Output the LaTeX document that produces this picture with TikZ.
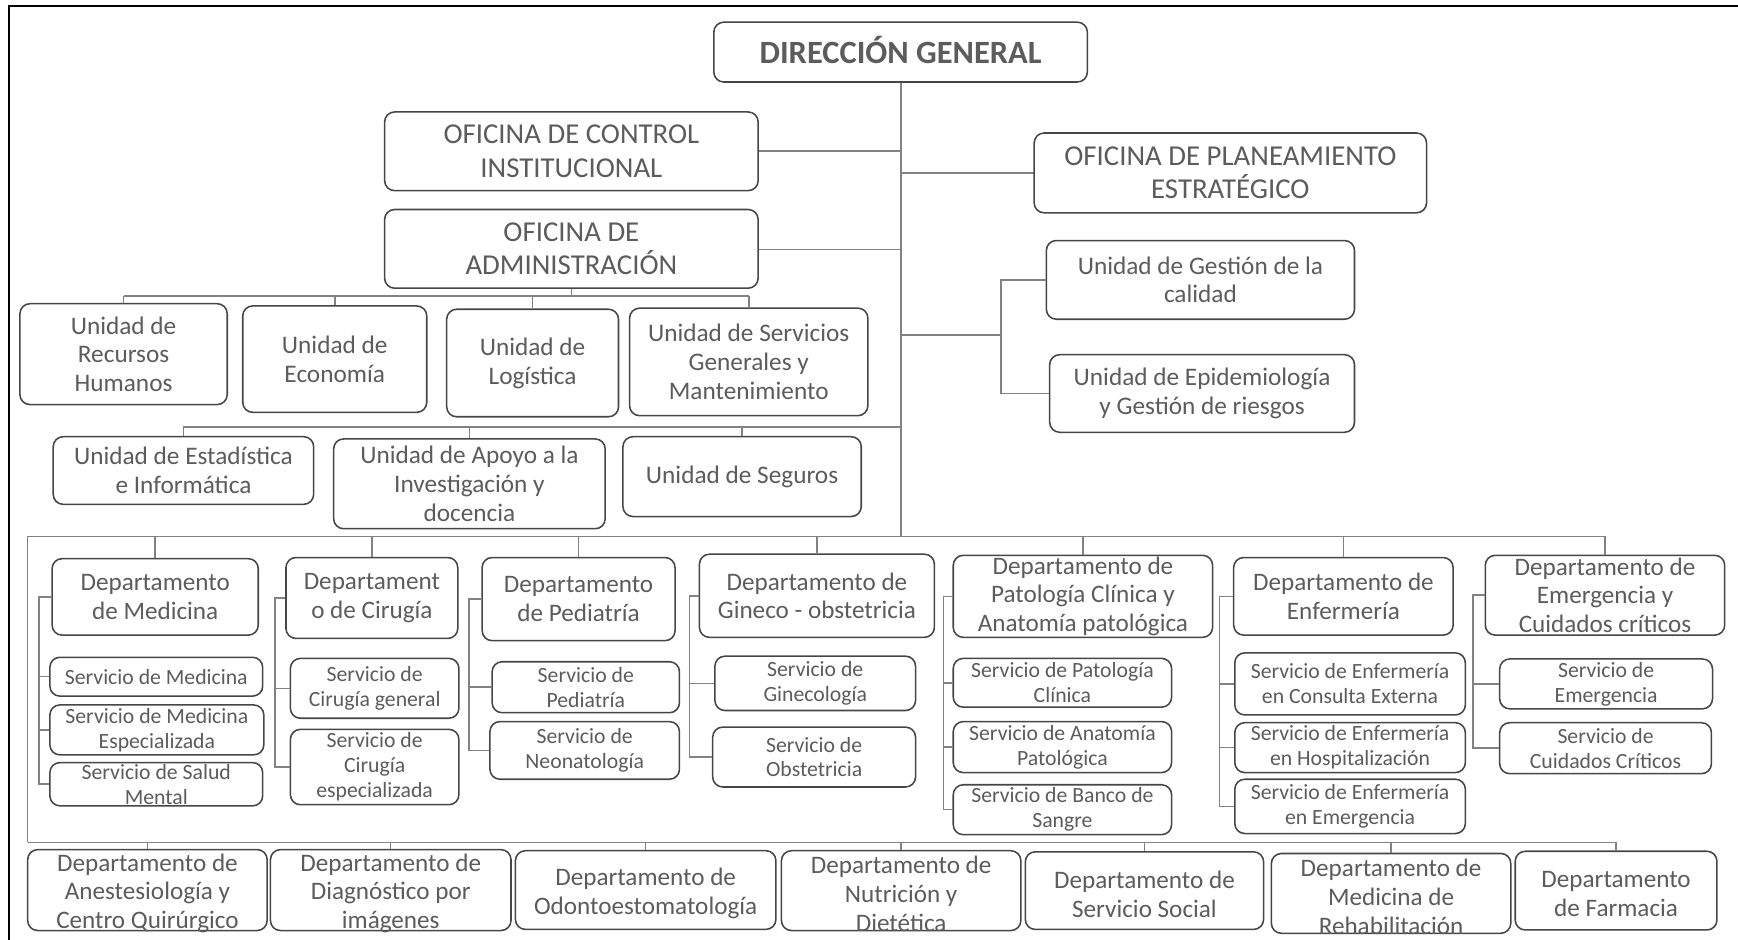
\documentclass[tikz,border=0pt]{standalone}
\usepackage{fontspec}
\setmainfont{Carlito}
\definecolor{txt}{RGB}{92,92,92}
\definecolor{bord}{RGB}{70,70,70}
\definecolor{lnk}{RGB}{130,130,130}
\tikzset{
  box/.style={draw=bord, line width=1.4pt, rounded corners=9pt, inner sep=0pt, fill=white},
  lbl/.style={text=txt, align=center, inner sep=0pt},
  fdir/.style={lbl, font=\fontsize{29.3}{34}\selectfont\bfseries, yshift=2pt},
  fofi/.style={lbl, font=\fontsize{26}{30}\selectfont},
  funi/.style={lbl, font=\fontsize{22.8}{26}\selectfont},
  fdep/.style={lbl, font=\fontsize{22.7}{26}\selectfont},
  fbot/.style={fdep, yshift=-3pt},
  fser/.style={lbl, font=\fontsize{19.6}{22.5}\selectfont},
  conn/.style={draw=lnk, line width=1.4pt},
}
\newcommand\bx[7]{\node[box,minimum width=#4pt,minimum height=#5pt,label={[#6]center:#7}] (#1) at (#2,#3) {};}
\begin{document}
\begin{tikzpicture}[x=1pt,y=-1pt]
\useasboundingbox (0,0) rectangle (1568,848);
% frame
\draw[line width=2pt,black] (8,848) -- (8,5.5) -- (1568,5.5);
% coordinates for buses
\coordinate (gq) at (903,302);
\coordinate (ab) at (0,267);
\coordinate (ub) at (0,385);
\coordinate (b1L) at (25,484);
\coordinate (b2L) at (25,760);
% connectors (drawn first)
\coordinate (mtop) at (813,74);
\draw[conn] (mtop) -- (mtop |- b1L);
\draw[conn] (684,136) -- (813,136);
\draw[conn] (684,225) -- (813,225);
\draw[conn] (813,156) -- (933,156);
% boxes
\bx{dir}{812.5}{47}{337}{54}{fdir}{DIRECCIÓN GENERAL}
\bx{ctrl}{515.5}{136.5}{337}{71}{fofi}{OFICINA DE CONTROL\\INSTITUCIONAL}
\bx{adm}{515.5}{224.5}{337}{71}{fofi}{OFICINA DE\\ADMINISTRACIÓN}
\bx{plan}{1110}{156}{354}{72}{fofi}{OFICINA DE PLANEAMIENTO\\ESTRATÉGICO}
\bx{gest}{1083}{252.5}{278}{71}{funi}{Unidad de Gestión de la\\calidad}
\bx{epi}{1084.5}{355}{275}{70}{funi}{Unidad de Epidemiología\\y Gestión de riesgos}
\bx{rrhh}{111.5}{319.5}{187}{91}{funi}{Unidad de\\Recursos\\Humanos}
\bx{eco}{302}{324}{166}{96}{funi}{Unidad de\\Economía}
\bx{log}{480.5}{327.5}{155}{97}{funi}{Unidad de\\Logística}
\bx{sgm}{675.5}{326.5}{215}{97}{funi}{Unidad de Servicios\\Generales y\\Mantenimiento}
\bx{est}{165.5}{424.5}{235}{61}{funi}{Unidad de Estadística\\e Informática}
\bx{apo}{423.5}{436.5}{245}{81}{funi}{Unidad de Apoyo a la\\Investigación y\\docencia}
\bx{seg}{669.5}{430}{215}{72}{funi}{Unidad de Seguros}
% departments
\bx{dmed}{140}{538.5}{186}{69}{fdep}{Departamento\\de Medicina}
\bx{dcir}{335.5}{539.5}{155}{73}{fdep}{Departament\\o de Cirugía}
\bx{dped}{522}{540.5}{174}{75}{fdep}{Departamento\\de Pediatría}
\bx{dgin}{737}{537.5}{212}{75}{fdep}{Departamento de\\Gineco - obstetricia}
\bx{dpat}{977}{538}{234}{74}{fdep}{Departamento de\\Patología Clínica y\\Anatomía patológica}
\bx{denf}{1212}{538}{198}{70}{fdep}{Departamento de\\Enfermería}
\bx{dem}{1448}{537}{216}{72}{fdep}{Departamento de\\Emergencia y\\Cuidados críticos}
% services
\bx{sm1}{141}{610.5}{192}{35}{fser}{Servicio de Medicina}
\bx{sm2}{141.5}{658.5}{193}{45}{fser}{Servicio de Medicina\\Especializada}
\bx{sm3}{141}{707.5}{192}{39}{fser}{Servicio de Salud\\Mental}
\bx{sc1}{338}{621}{152}{54}{fser}{Servicio de\\Cirugía general}
\bx{sc2}{338}{692}{152}{68}{fser}{Servicio de\\Cirugía\\especializada}
\bx{sp1}{528.5}{620}{169}{46}{fser}{Servicio de\\Pediatría}
\bx{sp2}{527.5}{677}{171}{52}{fser}{Servicio de\\Neonatología}
\bx{sg1}{735.5}{616.5}{181}{49}{fser}{Servicio de\\Ginecología}
\bx{sg2}{734.5}{683}{183}{54}{fser}{Servicio de\\Obstetricia}
\bx{sa1}{958.5}{616}{197}{44}{fser}{Servicio de Patología\\Clínica}
\bx{sa2}{958.5}{674}{197}{46}{fser}{Servicio de Anatomía\\Patológica}
\bx{sa3}{958.5}{730.5}{197}{45}{fser}{Servicio de Banco de\\Sangre}
\bx{se1}{1218}{617}{208}{56}{fser}{Servicio de Enfermería\\en Consulta Externa}
\bx{se2}{1218}{674.5}{208}{45}{fser}{Servicio de Enfermería\\en Hospitalización}
\bx{se3}{1218}{727.5}{208}{49}{fser}{Servicio de Enfermería\\en Emergencia}
\bx{sx1}{1449}{617}{192}{45}{fser}{Servicio de\\Emergencia}
\bx{sx2}{1448.5}{675}{191}{46}{fser}{Servicio de\\Cuidados Críticos}
% bottom row
\bx{an}{133}{803}{216}{73}{fbot}{Departamento de\\Anestesiología y\\Centro Quirúrgico}
\bx{dx}{352.5}{803}{217}{73}{fbot}{Departamento de\\Diagnóstico por\\imágenes}
\bx{od}{582.5}{803}{235}{71}{fbot}{Departamento de\\Odontoestomatología}
\bx{nu}{813}{803.5}{216}{72}{fbot}{Departamento de\\Nutrición y\\Dietética}
\bx{ss}{1032.5}{803.5}{215}{70}{fbot}{Departamento de\\Servicio Social}
\bx{mr}{1255}{806}{216}{72}{fbot}{Departamento de\\Medicina de\\Rehabilitación}
\bx{fa}{1458}{803.5}{182}{71}{fbot}{Departamento\\de Farmacia}
% Gestión bracket
\draw[conn] (gq -| mtop) -- (gq);
\draw[conn] (gest.west) -- (gest.west -| gq) -- (epi.west -| gq) -- (epi.west);
% administration units
\draw[conn] (adm.south) -- (adm.south |- ab);
\draw[conn] (rrhh.north |- ab) -- (sgm.north |- ab);
\foreach \n in {rrhh,eco,log,sgm} \draw[conn] (\n.north) -- (\n.north |- ab);
\draw[conn] (est.north |- ub) -- (ub -| mtop);
\foreach \n in {est,apo,seg} \draw[conn] (\n.north) -- (\n.north |- ub);
% department buses
\draw[conn] (b2L) -- (b1L) -| (dem.north);
\foreach \n in {dmed,dcir,dped,dgin,dpat,denf} \draw[conn] (\n.north) -- (\n.north |- b1L);
\draw[conn] (b2L) -| (fa.north);
\foreach \n in {an,dx,od,nu,ss,mr} \draw[conn] (\n.north) -- (\n.north |- b2L);
% service brackets
\draw[conn] (dmed.west) -- (dmed.west -| 35,0) -- (sm3.west -| 35,0) -- (sm3.west);
\draw[conn] (sm1.west) -- (sm1.west -| 35,0);
\draw[conn] (sm2.west) -- (sm2.west -| 35,0);
\draw[conn] (dcir.west) -- (dcir.west -| 248,0) -- (sc2.west -| 248,0) -- (sc2.west);
\draw[conn] (sc1.west) -- (sc1.west -| 248,0);
\draw[conn] (dped.west) -- (dped.west -| 423,0) -- (sp2.west -| 423,0) -- (sp2.west);
\draw[conn] (sp1.west) -- (sp1.west -| 423,0);
\draw[conn] (dgin.west) -- (dgin.west -| 622,0) -- (sg2.west -| 622,0) -- (sg2.west);
\draw[conn] (sg1.west) -- (sg1.west -| 622,0);
\draw[conn] (dpat.west) -- (dpat.west -| 851,0) -- (sa3.west -| 851,0) -- (sa3.west);
\draw[conn] (sa1.west) -- (sa1.west -| 851,0);
\draw[conn] (sa2.west) -- (sa2.west -| 851,0);
\draw[conn] (denf.west) -- (denf.west -| 1100,0) -- (se3.west -| 1100,0) -- (se3.west);
\draw[conn] (se1.west) -- (se1.west -| 1100,0);
\draw[conn] (se2.west) -- (se2.west -| 1100,0);
\draw[conn] (dem.west) -- (dem.west -| 1329,0) -- (sx2.west -| 1329,0) -- (sx2.west);
\draw[conn] (sx1.west) -- (sx1.west -| 1329,0);
\end{tikzpicture}
\end{document}
